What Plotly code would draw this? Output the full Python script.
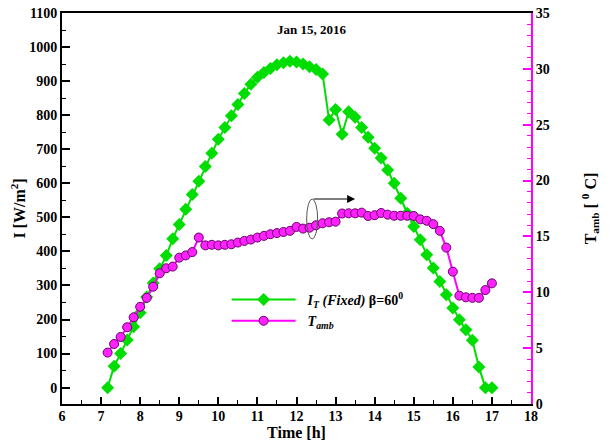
import plotly.graph_objects as go

# ---- data ----
time_h = [7.167, 7.333, 7.5, 7.667, 7.833, 8.0, 8.167, 8.333, 8.5, 8.667,
          8.833, 9.0, 9.167, 9.333, 9.5, 9.667, 9.833, 10.0, 10.167, 10.333,
          10.5, 10.667, 10.833, 11.0, 11.167, 11.333, 11.5, 11.667, 11.833, 12.0,
          12.167, 12.333, 12.5, 12.667, 12.833, 13.0, 13.167, 13.333, 13.5, 13.667,
          13.833, 14.0, 14.167, 14.333, 14.5, 14.667, 14.833, 15.0, 15.167, 15.333,
          15.5, 15.667, 15.833, 16.0, 16.167, 16.333, 16.5, 16.667, 16.833, 17.0]

irradiance = [0, 63, 100, 140, 179, 220, 266, 307, 349, 388,
              437, 479, 524, 567, 606, 649, 688, 729, 764, 798,
              831, 864, 891, 911, 925, 937, 948, 954, 958, 956,
              950, 942, 934, 921, 786, 817, 744, 810, 794, 764,
              735, 703, 674, 639, 600, 556, 512, 473, 434, 390,
              351, 312, 273, 234, 199, 170, 139, 61, 0, 0]

t_amb = [4.6, 5.37, 6.0, 6.87, 7.76, 8.7, 9.5, 10.5, 11.7, 12.15,
         12.3, 13.1, 13.3, 13.6, 14.9, 14.2, 14.25, 14.2, 14.25, 14.3,
         14.45, 14.6, 14.72, 14.9, 15.05, 15.2, 15.3, 15.4, 15.5, 15.85,
         15.7, 15.78, 16.0, 16.18, 16.27, 16.32, 17.05, 17.07, 17.07, 17.13,
         16.83, 16.9, 17.1, 16.95, 16.85, 16.85, 16.85, 16.83, 16.53, 16.4,
         16.1, 15.5, 14.0, 11.85, 9.7, 9.55, 9.5, 9.5, 10.2, 10.8]

x_ticks = [6, 7, 8, 9, 10, 11, 12, 13, 14, 15, 16, 17, 18]
title_text = "Jan 15, 2016"
name_irr = "\u00a0\u00a0<i>I<sub>T</sub> (Fixed)</i> \u03b2=60<sup>0</sup>"
name_tamb = "\u00a0\u00a0<i>T<sub>amb</sub></i>"

# ellipse / arrow annotation positions (data coords)
ell_center = (12.40, 16.56)
ell_half = (0.14, 1.79)
arrow_from = (12.40, 18.35)
arrow_to = (13.5, 18.35)

GREEN = "#00dd00"
MAG = "#ff00ff"
FONT = "Liberation Serif"

fig = go.Figure()
fig.add_trace(go.Scatter(
    x=time_h, y=irradiance, mode="lines+markers", name=name_irr,
    line=dict(color=GREEN, width=2),
    marker=dict(symbol="diamond", size=10, color=GREEN),
))
fig.add_trace(go.Scatter(
    x=time_h, y=t_amb, yaxis="y2", mode="lines+markers", name=name_tamb,
    line=dict(color=MAG, width=2),
    marker=dict(symbol="circle", size=9, color="#ff22ff",
                line=dict(color="#6a006a", width=1)),
))

fig.add_shape(type="circle", xref="x", yref="y2",
              x0=ell_center[0] - ell_half[0], x1=ell_center[0] + ell_half[0],
              y0=ell_center[1] - ell_half[1], y1=ell_center[1] + ell_half[1],
              line=dict(color="#555555", width=1))
fig.add_annotation(x=arrow_to[0], y=arrow_to[1], ax=arrow_from[0], ay=arrow_from[1],
                   xref="x", yref="y2", axref="x", ayref="y2",
                   text="", showarrow=True, arrowhead=2, arrowsize=1.6,
                   arrowwidth=1, arrowcolor="black")
fig.add_annotation(x=0.531, y=0.959, xref="paper", yref="paper",
                   xanchor="center", yanchor="middle",
                   text=title_text, showarrow=False,
                   font=dict(family=FONT, size=13, color="black", weight="bold"))

fig.update_layout(
    width=612, height=441,
    margin=dict(l=62, r=81, t=13, b=37, autoexpand=False),
    paper_bgcolor="white", plot_bgcolor="white",
    font=dict(family=FONT, size=14, color="black", weight="bold"),
    showlegend=True,
    legend=dict(x=0.351, y=0.307, xanchor="left", yanchor="top",
                bgcolor="rgba(0,0,0,0)", itemwidth=64,
                font=dict(family=FONT, size=14, weight="bold"),
                tracegroupgap=2),
    xaxis=dict(range=[6, 18], tickvals=x_ticks, ticks="inside", ticklen=7,
               tickwidth=2, tickcolor="black", showline=True, linewidth=2,
               linecolor="black", mirror=True, showgrid=False, zeroline=False,
               automargin=False, ticklabelstandoff=-2,
               minor=dict(dtick=0.5, ticks="inside", ticklen=4, tickwidth=1,
                          tickcolor="black"),
               tickfont=dict(family=FONT, size=14, weight="bold"),
               title=dict(text="Time [h]", standoff=2,
                          font=dict(family=FONT, size=16, weight="bold"))),
    yaxis=dict(range=[-48, 1100], tick0=0, dtick=100, ticks="inside", ticklen=8,
               tickwidth=2, tickcolor="black", showline=True, linewidth=2,
               linecolor="black", showgrid=False, zeroline=False,
               automargin=False,
               minor=dict(dtick=50, ticks="inside", ticklen=4, tickwidth=1,
                          tickcolor="black"),
               tickfont=dict(family=FONT, size=14, weight="bold"),
               title=dict(text="I [W/m<sup>2</sup>]", standoff=0,
                          font=dict(family=FONT, size=16, weight="bold"))),
    yaxis2=dict(range=[0, 35], overlaying="y", side="right", tick0=0, dtick=5,
                ticks="inside", ticklen=8, tickwidth=2, tickcolor=MAG,
                showline=True, linewidth=2, linecolor=MAG, showgrid=False,
                zeroline=False, automargin=False,
                minor=dict(dtick=1, ticks="inside", ticklen=4, tickwidth=1,
                           tickcolor=MAG),
                tickfont=dict(family=FONT, size=14, weight="bold"),
                title=dict(text="T<sub>amb</sub> [ <sup>0</sup> C]", standoff=36,
                           font=dict(family=FONT, size=16, weight="bold"))),
)

fig.write_html("out.html")
